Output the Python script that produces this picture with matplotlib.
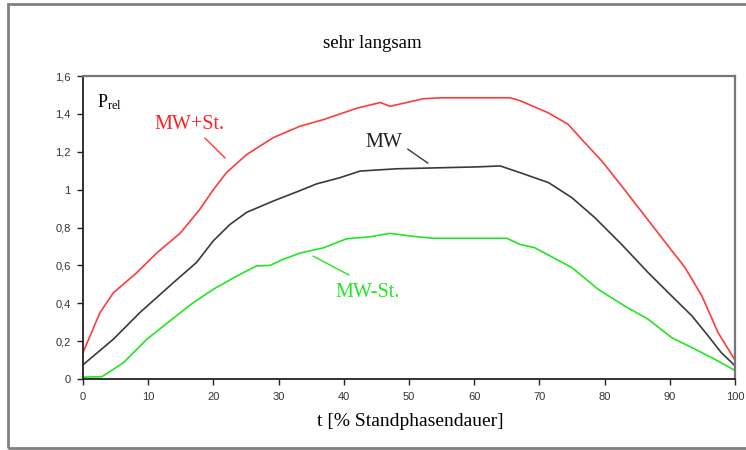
import matplotlib
matplotlib.use("Agg")
import matplotlib.pyplot as plt
from matplotlib.patches import Rectangle

plt.rcParams["mathtext.fontset"] = "custom"
plt.rcParams["mathtext.rm"] = "Liberation Serif"
plt.rcParams["mathtext.it"] = "Liberation Serif:italic"

# ---- data ----
t_plus = [0, 2.6, 4.65, 8.2, 11.3, 14.9, 17.9, 20, 22, 25.1, 29.2, 33.3, 36.9, 42, 45.6, 47.1,
          52.2, 55, 65.5, 67, 71.4, 74.4, 76.5, 79.6, 82.6, 86.2, 89.8, 92.3, 94.9, 97.4, 100]
mw_plus_st = [0.14, 0.35, 0.455, 0.56, 0.665, 0.77, 0.895, 1.0, 1.09, 1.185, 1.275, 1.335, 1.37, 1.43,
              1.46, 1.44, 1.48, 1.485, 1.485, 1.47, 1.405, 1.345, 1.265, 1.15, 1.02, 0.86, 0.70,
              0.59, 0.44, 0.245, 0.10]

t_mw = [0, 4.65, 8.7, 13.9, 17.4, 20, 22.5, 25.1, 29.2, 33.3, 35.8, 39.4, 42.5, 48.1, 60.4, 64, 67,
        71.4, 75, 78.5, 82.6, 86.7, 90.3, 93.4, 95.9, 97.9, 100]
mw = [0.075, 0.21, 0.35, 0.51, 0.615, 0.73, 0.815, 0.88, 0.94, 0.995, 1.03, 1.063, 1.098, 1.11, 1.12,
      1.125, 1.09, 1.037, 0.957, 0.852, 0.711, 0.561, 0.438, 0.333, 0.227, 0.139, 0.07]

t_minus = [0, 2.9, 6.2, 9.8, 13.3, 16.9, 20, 23.6, 26.6, 28.7, 30.7, 33.3, 36.9, 40.4, 44, 47.1, 50.2,
           53.7, 65, 67, 69.3, 75, 79, 83.1, 86.7, 90.3, 93.9, 97.4, 100]
mw_minus_st = [0.01, 0.012, 0.086, 0.21, 0.306, 0.403, 0.474, 0.544, 0.597, 0.6, 0.632, 0.665, 0.693,
               0.74, 0.751, 0.769, 0.755, 0.743, 0.743, 0.711, 0.693, 0.588, 0.474, 0.385, 0.315,
               0.218, 0.157, 0.095, 0.045]

x_ticks = [0, 10, 20, 30, 40, 50, 60, 70, 80, 90, 100]
y_ticks = [0, 0.2, 0.4, 0.6, 0.8, 1.0, 1.2, 1.4, 1.6]
y_tick_labels = ["0", "0,2", "0,4", "0,6", "0,8", "1", "1,2", "1,4", "1,6"]

title = "sehr langsam"
xlabel = "t [% Standphasendauer]"

# ---- figure ----
fig = plt.figure(figsize=(7.46, 4.5), dpi=100)
fig.patches.append(Rectangle((8 / 746, 2 / 450), 1.0, 444 / 450, transform=fig.transFigure,
                             fill=False, edgecolor="#808080", linewidth=2.0))

ax = fig.add_axes([83 / 746, 1 - 379 / 450, 652 / 746, 303 / 450])

ax.plot(t_plus, mw_plus_st, color="#ff3b3b", lw=1.2)
ax.plot(t_mw, mw, color="#3a3a3a", lw=1.2)
ax.plot(t_minus, mw_minus_st, color="#22e622", lw=1.2)

ax.set_xlim(0, 100)
ax.set_ylim(0, 1.6)
ax.set_xticks(x_ticks)
ax.set_yticks(y_ticks)
ax.set_yticklabels(y_tick_labels)
ax.tick_params(direction="out", length=4, width=1, labelsize=8, colors="#222222",
               labelcolor="#333333", pad=5)
for lab in ax.get_xticklabels() + ax.get_yticklabels():
    lab.set_fontfamily("Liberation Sans")
for side in ["left", "bottom"]:
    ax.spines[side].set_color("#222222")
    ax.spines[side].set_linewidth(1.3)
for side in ["top", "right"]:
    ax.spines[side].set_color("#777777")
    ax.spines[side].set_linewidth(1.6)

serif = "Liberation Serif"
fig.text(372 / 746, 1 - 43 / 450, title, ha="center", va="center", family=serif, fontsize=13.5)
fig.text(410 / 746, 1 - 421 / 450, xlabel, ha="center", va="center", family=serif, fontsize=14)

ax.text(2.1, 1.46, r"P$_{\rm rel}$", family=serif, fontsize=13, ha="left", va="center")

ax.text(16.4, 1.346, "MW+St.", color="#ff2020", family=serif, fontsize=14.5, ha="center", va="center")
ax.annotate("", xy=(21.8, 1.167), xytext=(18.7, 1.272),
            arrowprops=dict(arrowstyle="-", color="#ff3b3b", lw=1.0, shrinkA=0, shrinkB=0))

ax.text(46.2, 1.251, "MW", color="#222222", family=serif, fontsize=14.5, ha="center", va="center")
ax.annotate("", xy=(52.9, 1.14), xytext=(49.8, 1.214),
            arrowprops=dict(arrowstyle="-", color="#3a3a3a", lw=1.0, shrinkA=0, shrinkB=0))

ax.text(43.6, 0.459, "MW-St.", color="#22e622", family=serif, fontsize=14.5, ha="center", va="center")
ax.annotate("", xy=(40.8, 0.549), xytext=(35.3, 0.649),
            arrowprops=dict(arrowstyle="-", color="#22e622", lw=1.0, shrinkA=0, shrinkB=0))

fig.savefig("out.png", dpi=100)
